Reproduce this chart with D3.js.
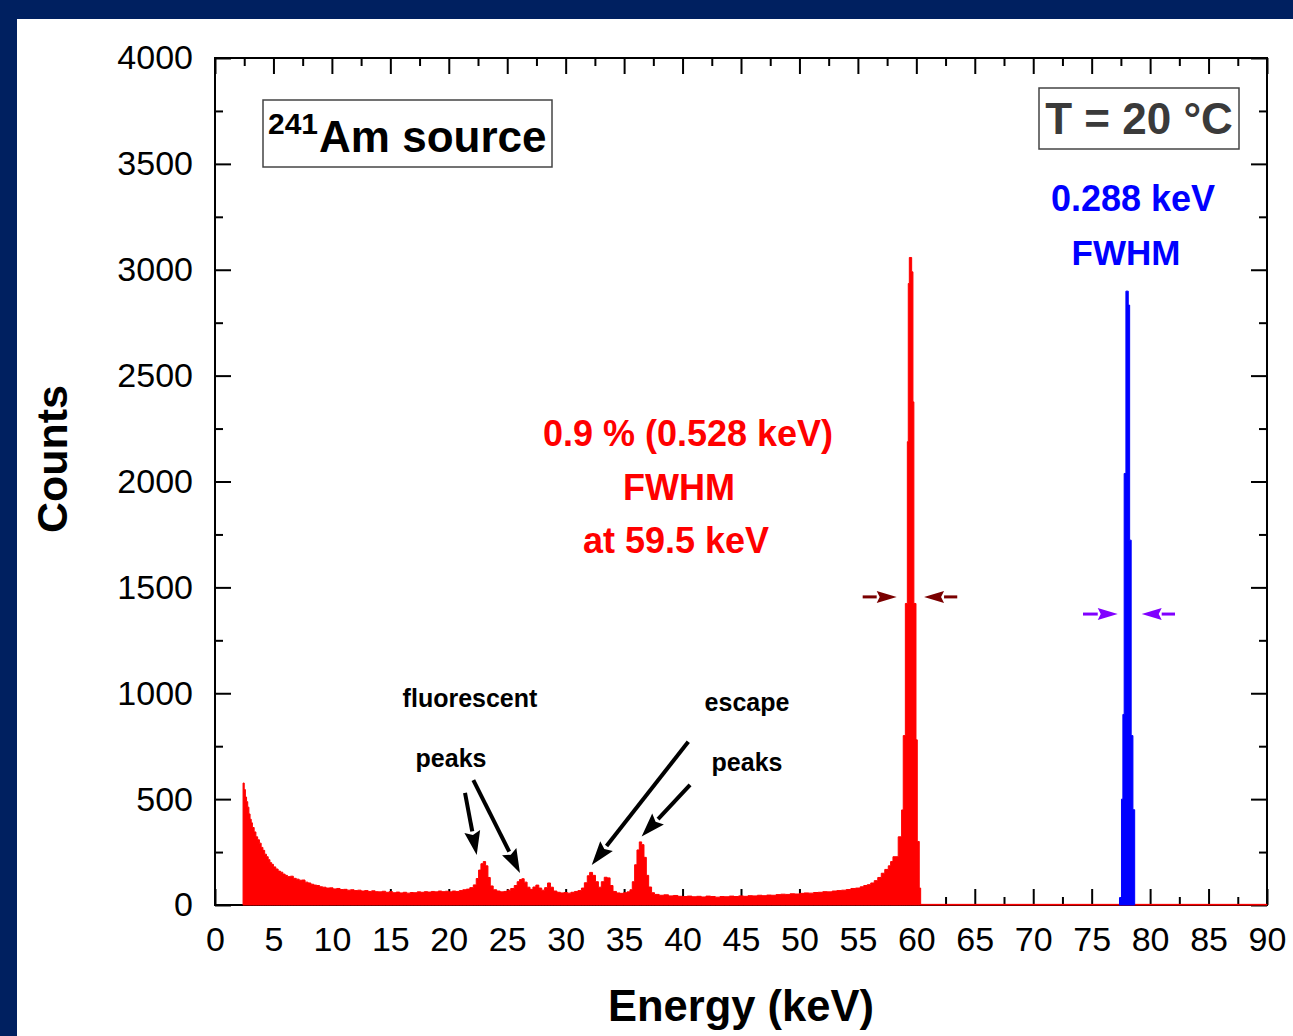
<!DOCTYPE html>
<html>
<head>
<meta charset="utf-8">
<script src="https://cdn.jsdelivr.net/npm/d3@7"></script>
<style>
  html, body { margin: 0; padding: 0; background: #002060; }
  svg { display: block; }
  text { font-family: Arial, "Liberation Sans", sans-serif; }
</style>
</head>
<body>
<svg id="chart" width="1293" height="1036"></svg>
<script>
// 241Am spectrum, red = measured spectrum, blue = pulser peak
const redEnergy = [
  2.4, 2.5, 2.6, 2.7, 2.8, 2.9, 3.0, 3.1, 3.2, 3.35, 3.5, 3.65, 3.8, 3.95, 4.1, 4.25, 4.4, 4.55, 4.7, 4.85,
  5.0, 5.2, 5.4, 5.6, 5.8, 6.0, 6.2, 6.45, 6.7, 6.95, 7.2, 7.45, 7.7, 7.95, 8.2, 8.45, 8.7, 8.95, 9.2, 9.5,
  9.8, 10.1, 10.4, 10.7, 11.0, 11.3, 11.6, 11.9, 12.2, 12.5, 12.8, 13.1, 13.4, 13.7, 14.0, 14.3, 14.6, 14.9,
  15.2, 15.5, 15.8, 16.1, 16.4, 16.7, 17.0, 17.3, 17.6, 17.9, 18.2, 18.5, 18.8, 19.1, 19.4, 19.7, 20.0, 20.3,
  20.6, 20.9, 21.2, 21.5, 21.8, 22.1, 22.35, 22.55, 22.75, 22.95, 23.15, 23.35, 23.55, 23.8, 24.1, 24.4, 24.7,
  25.0, 25.3, 25.6, 25.85, 26.05, 26.25, 26.45, 26.7, 26.95, 27.2, 27.45, 27.7, 27.95, 28.2, 28.45, 28.7,
  28.95, 29.25, 29.55, 29.85, 30.15, 30.45, 30.75, 31.05, 31.35, 31.6, 31.85, 32.05, 32.3, 32.55, 32.8, 33.05,
  33.3, 33.55, 33.8, 34.05, 34.35, 34.65, 34.95, 35.25, 35.5, 35.7, 35.9, 36.1, 36.3, 36.5, 36.7, 36.9, 37.1,
  37.35, 37.6, 38.0, 38.4, 38.8, 39.2, 39.6, 40.0, 40.4, 40.8, 41.2, 41.6, 42.0, 42.4, 42.8, 43.2, 43.6, 44.0,
  44.4, 44.8, 45.2, 45.6, 46.0, 46.4, 46.8, 47.2, 47.6, 48.0, 48.4, 48.8, 49.2, 49.6, 50.0, 50.4, 50.8, 51.2,
  51.6, 52.0, 52.4, 52.8, 53.2, 53.6, 54.0, 54.4, 54.8, 55.2, 55.5, 55.8, 56.1, 56.4, 56.7, 57.0, 57.3, 57.6,
  57.8, 58.0, 58.45, 58.74, 58.88, 59.06, 59.23, 59.31, 59.40, 59.60, 59.71, 59.79, 59.97, 60.08, 60.25,
  60.37, 90
];
const redCounts = [
  576, 545, 510, 488, 462, 430, 405, 388, 366, 345, 322, 308, 292, 272, 258, 240, 228, 214, 200, 192,
  180, 170, 160, 155, 146, 140, 134, 136, 126, 122, 117, 118, 108, 104, 98, 94, 92, 86, 84, 80,
  81, 76, 78, 73, 74, 70, 72, 68, 70, 66, 68, 64, 67, 63, 62, 65, 60, 63,
  58, 61, 57, 60, 56, 59, 58, 62, 60, 63, 61, 64, 62, 66, 63, 65, 62, 66,
  64, 68, 72, 75, 82, 95, 125, 165, 195, 205, 185, 130, 90, 72, 66, 62, 64,
  70, 78, 92, 110, 120, 124, 108, 84, 74, 85, 94, 80, 70, 82, 104, 84,
  66, 60, 57, 59, 56, 60, 64, 68, 80, 105, 138, 154, 140, 110, 84, 110,
  131, 128, 92, 64, 57, 55, 58, 62, 72, 110, 190, 260, 298, 285, 225, 140, 85,
  58, 50, 46, 48, 43, 45, 41, 40, 42, 39, 41, 38, 42, 40, 37, 40, 39, 42,
  40, 43, 41, 44, 43, 46, 44, 47, 46, 49, 51, 50, 53, 52, 55, 57, 56, 59,
  60, 63, 62, 66, 68, 70, 73, 78, 80, 86, 92, 96, 104, 115, 130, 150, 168, 185,
  205, 228, 322, 449, 800, 1424, 2188, 2935, 3058, 2990, 2376, 1424, 780, 300, 80,
  3, 3
];
const blueEnergy = [77.38, 77.55, 77.67, 77.78, 77.93, 78.13, 78.25, 78.38, 78.53, 78.68];
const blueCounts = [35, 500, 900, 2038, 2899, 2833, 1723, 800, 450, 0];

const xTickLabels = [0, 5, 10, 15, 20, 25, 30, 35, 40, 45, 50, 55, 60, 65, 70, 75, 80, 85, 90];
const yTickLabels = [0, 500, 1000, 1500, 2000, 2500, 3000, 3500, 4000];

const svg = d3.select("#chart");

// white panel
svg.append("rect")
  .attr("x", 17).attr("y", 19)
  .attr("width", 1276).attr("height", 1017)
  .attr("fill", "#ffffff");

const plotLeft = 215, plotRight = 1267, plotTop = 58, plotBottom = 905;

const x = d3.scaleLinear().domain([0, 90]).range([plotLeft, plotRight]);
const y = d3.scaleLinear().domain([0, 4000]).range([plotBottom, plotTop]);

const xMinor = xTickLabels.slice(1).map((d) => d - 2.5);
const yMinor = yTickLabels.slice(1).map((d) => d - 250);

function styleAxis(g) {
  g.select(".domain").remove();
  g.selectAll(".tick line").attr("stroke", "#000").attr("stroke-width", 2);
  g.selectAll(".tick text")
    .attr("fill", "#000")
    .style("font-size", "34px")
    .style("font-family", "Arial, 'Liberation Sans', sans-serif");
}

// bottom
svg.append("g")
  .attr("transform", "translate(0," + plotBottom + ")")
  .call(d3.axisBottom(x).tickValues(xTickLabels).tickSize(-16).tickPadding(22).tickFormat(d3.format("d")))
  .call(styleAxis);
svg.append("g")
  .attr("transform", "translate(0," + plotBottom + ")")
  .call(d3.axisBottom(x).tickValues(xMinor).tickSize(-8).tickFormat(""))
  .call(styleAxis);
// top
svg.append("g")
  .attr("transform", "translate(0," + plotTop + ")")
  .call(d3.axisTop(x).tickValues(xTickLabels).tickSize(-16).tickFormat(""))
  .call(styleAxis);
svg.append("g")
  .attr("transform", "translate(0," + plotTop + ")")
  .call(d3.axisTop(x).tickValues(xMinor).tickSize(-8).tickFormat(""))
  .call(styleAxis);
// left
svg.append("g")
  .attr("transform", "translate(" + plotLeft + ",0)")
  .call(d3.axisLeft(y).tickValues(yTickLabels).tickSize(-16).tickPadding(22).tickFormat(d3.format("d")))
  .call(styleAxis);
svg.append("g")
  .attr("transform", "translate(" + plotLeft + ",0)")
  .call(d3.axisLeft(y).tickValues(yMinor).tickSize(-8).tickFormat(""))
  .call(styleAxis);
// right
svg.append("g")
  .attr("transform", "translate(" + plotRight + ",0)")
  .call(d3.axisRight(y).tickValues(yTickLabels).tickSize(-16).tickFormat(""))
  .call(styleAxis);
svg.append("g")
  .attr("transform", "translate(" + plotRight + ",0)")
  .call(d3.axisRight(y).tickValues(yMinor).tickSize(-8).tickFormat(""))
  .call(styleAxis);

svg.append("rect")
  .attr("x", plotLeft).attr("y", plotTop)
  .attr("width", plotRight - plotLeft).attr("height", plotBottom - plotTop)
  .attr("fill", "none")
  .attr("stroke", "#000")
  .attr("stroke-width", 2);

// spectra
const redData = redEnergy.map((e, i) => ({ e: e, c: redCounts[i] }));
const blueData = blueEnergy.map((e, i) => ({ e: e, c: blueCounts[i] }));

const area = d3.area()
  .curve(d3.curveStepAfter)
  .x((d) => x(d.e))
  .y0(y(0))
  .y1((d) => y(d.c));

svg.append("path")
  .datum(redData)
  .attr("d", area)
  .attr("fill", "#ff0000")
  .attr("stroke", "#ff0000")
  .attr("stroke-width", 1);

svg.append("path")
  .datum(blueData)
  .attr("d", area)
  .attr("fill", "#0000ff")
  .attr("stroke", "#0000ff")
  .attr("stroke-width", 1);

// arrows
function arrow(x1, y1, x2, y2, color, lw, headLen, headHalf) {
  const ang = Math.atan2(y2 - y1, x2 - x1);
  const bx = x2 - headLen * Math.cos(ang);
  const by = y2 - headLen * Math.sin(ang);
  svg.append("line")
    .attr("x1", x1).attr("y1", y1)
    .attr("x2", bx).attr("y2", by)
    .attr("stroke", color)
    .attr("stroke-width", lw);
  const px = -Math.sin(ang) * headHalf, py = Math.cos(ang) * headHalf;
  svg.append("polygon")
    .attr("points", [
      [x2, y2],
      [bx + px, by + py],
      [bx + (x2 - bx) * 0.15, by + (y2 - by) * 0.15],
      [bx - px, by - py]
    ].map((p) => p.join(",")).join(" "))
    .attr("fill", color);
}

// fluorescent / escape peak pointers (data coordinates)
arrow(x(21.39), y(529), x(22.39), y(236), "#000", 4, 24, 8);
arrow(x(22.10), y(590), x(26.09), y(151), "#000", 4, 24, 8);
arrow(x(40.49), y(771), x(32.23), y(189), "#000", 4, 24, 8);
arrow(x(40.64), y(567), x(36.50), y(323), "#000", 4, 24, 8);

// FWHM markers
arrow(x(55.41), y(1455), x(58.32), y(1455), "#7a0000", 3, 20, 6);
arrow(x(63.50), y(1455), x(60.66), y(1455), "#7a0000", 3, 20, 6);
arrow(x(74.26), y(1374), x(77.23), y(1374), "#8000ff", 3, 20, 6);
arrow(x(82.13), y(1374), x(79.28), y(1374), "#8000ff", 3, 20, 6);

// labels
function label(tx, ty, str, size, color, anchor) {
  return svg.append("text")
    .attr("x", tx).attr("y", ty)
    .attr("text-anchor", anchor || "middle")
    .attr("font-weight", "bold")
    .attr("font-size", size)
    .attr("fill", color)
    .text(str);
}

label(688, 446, "0.9 % (0.528 keV)", 36, "#ff0000");
label(679, 500, "FWHM", 36, "#ff0000");
label(676, 553, "at 59.5 keV", 36, "#ff0000");

label(1133, 211, "0.288 keV", 36, "#0000ff");
label(1126, 265, "FWHM", 35, "#0000ff");

label(470, 707, "fluorescent", 25, "#000");
label(451, 767, "peaks", 25, "#000");
label(747, 711, "escape", 25, "#000");
label(747, 771, "peaks", 25, "#000");

// source box
svg.append("rect")
  .attr("x", 263).attr("y", 100)
  .attr("width", 289).attr("height", 67)
  .attr("fill", "#fff")
  .attr("stroke", "#444")
  .attr("stroke-width", 1.5);
const src = svg.append("text")
  .attr("x", 268).attr("y", 152)
  .attr("font-weight", "bold")
  .attr("fill", "#000");
src.append("tspan").attr("font-size", 30).attr("dy", -18).text("241");
src.append("tspan").attr("font-size", 44).attr("dy", 18).attr("dx", 1).text("Am source");

// temperature box
svg.append("rect")
  .attr("x", 1039).attr("y", 88)
  .attr("width", 200).attr("height", 61)
  .attr("fill", "#fff")
  .attr("stroke", "#444")
  .attr("stroke-width", 1.5);
label(1139, 134, "T = 20 °C", 44, "#3a3a3a");

// axis titles
label(741, 1021, "Energy (keV)", 43.5, "#000");
svg.append("text")
  .attr("transform", "translate(67,459) rotate(-90)")
  .attr("text-anchor", "middle")
  .attr("font-weight", "bold")
  .attr("font-size", 43)
  .attr("fill", "#000")
  .text("Counts");
</script>
</body>
</html>
